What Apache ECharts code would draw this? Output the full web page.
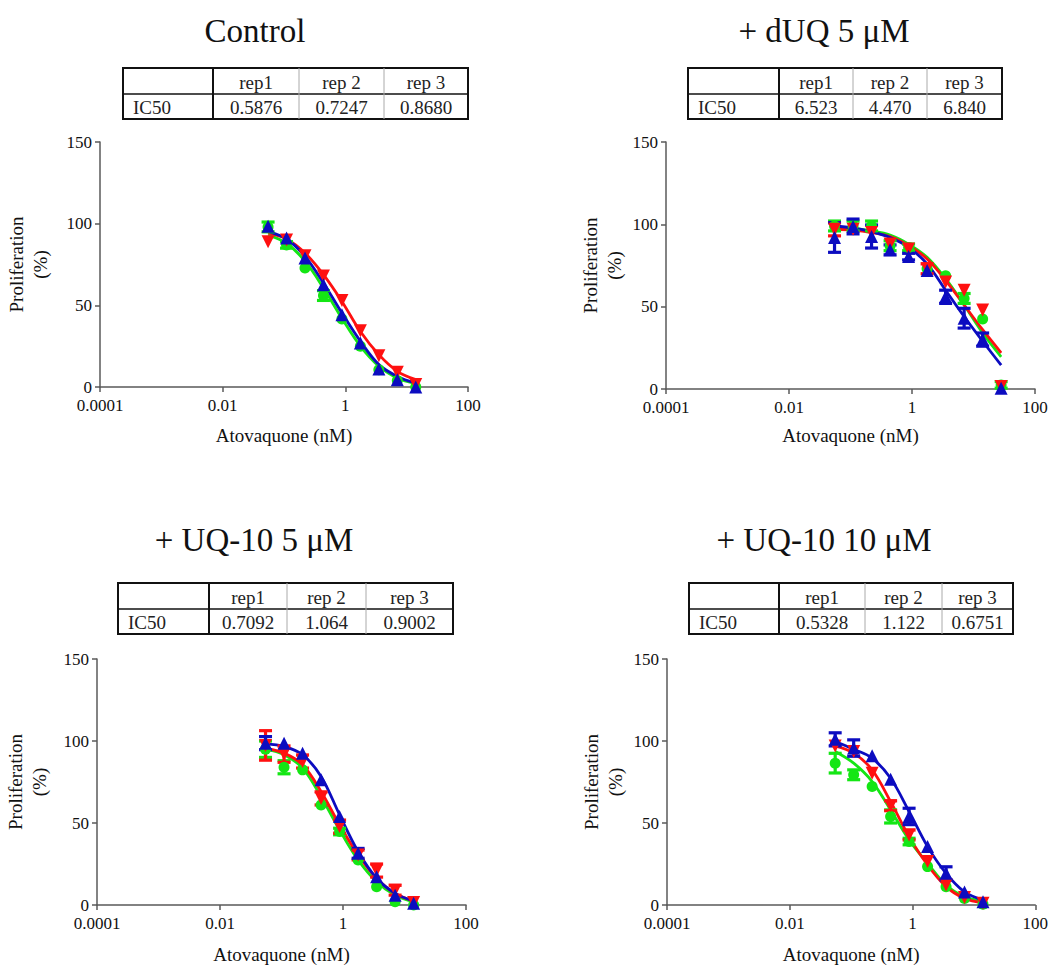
<!DOCTYPE html>
<html>
<head>
<meta charset="utf-8">
<script src="https://cdn.jsdelivr.net/npm/echarts@6/dist/echarts.min.js"></script>
<style>
html,body{margin:0;padding:0;background:#fff;}
#chart{width:1051px;height:967px;}
</style>
</head>
<body>
<div id="chart"></div>
<script>
// ---------------- DATA ----------------
const conc = [0.055, 0.11, 0.22, 0.44, 0.88, 1.76, 3.52, 7.04, 14.08, 28.16];
const panelTitles = ['Control', '+ dUQ 5 \u03bcM', '+ UQ-10 5 \u03bcM', '+ UQ-10 10 \u03bcM'];
const repLabels = ['rep1', 'rep 2', 'rep 3'];
const rowLabel = 'IC50';
const xTicks = [0.0001, 0.01, 1, 100];
const yTicks = [0, 50, 100, 150];
const xAxisName = 'Atovaquone (nM)';
const yAxisName = 'Proliferation\n(%)';

const ctrlIC50 = ['0.5876', '0.7247', '0.8680'];
const duqIC50 = ['6.523', '4.470', '6.840'];
const uq5IC50 = ['0.7092', '1.064', '0.9002'];
const uq10IC50 = ['0.5328', '1.122', '0.6751'];

// Control (rep1 green, rep2 blue, rep3 red)
const ctrlRep1 = [98, 87, 72.9, 56, 41.6, 25, 10.6, 4, 0];
const ctrlRep1Err = [3, 2, 0, 3, 0, 0, 0, 0, 0];
const ctrlRep2 = [98.4, 91.2, 79, 62.6, 44.3, 26.9, 11, 4.5, 0];
const ctrlRep2Err = [0, 0, 0, 0, 0, 0, 0, 0, 0];
const ctrlRep3 = [89, 90, 80.4, 68, 53, 34.5, 19.2, 9, 1.5];
const ctrlRep3Err = [0, 0, 0, 0, 0, 0, 0, 0, 0];
const ctrlFit1 = [93, 88, 77, 60.6, 42, 25, 12.7, 5.5, 2];
const ctrlFit2 = [95.3, 90.6, 80, 63.7, 45.3, 28, 13.7, 6.5, 2.4];
const ctrlFit3 = [94.3, 90.6, 82, 68.8, 52.4, 34, 19.8, 9.6, 4.5];

// + dUQ 5 uM
const duqRep1 = [99, 99, 99, 87, 86, 73, 68.7, 55, 42.5, 2.5];
const duqRep1Err = [3, 3, 3, 3, 2, 0, 0, 3, 0, 2];
const duqRep2 = [92, 98.7, 92.6, 84.5, 80.4, 72, 56, 43, 30, 0.5];
const duqRep2Err = [9, 4.5, 7, 3, 2, 0, 4, 6, 4, 0];
const duqRep3 = [97, 97, 95, 88, 85, 73, 65, 60, 48, 1.5];
const duqRep3Err = [4, 0, 0, 0, 0, 3, 0, 0, 0, 0];
const duqFit1 = [98, 97.5, 96, 93.5, 88, 80, 67, 51, 34, 19.5];
const duqFit2 = [99, 97.8, 95.5, 92, 86, 76, 60, 44, 29, 14.5];
const duqFit3 = [97, 96.5, 95, 92.5, 87, 79, 66, 51, 36, 22];

// + UQ-10 5 uM
const uq5Rep1 = [95, 84, 82.4, 61, 44.8, 27.5, 11.2, 2, 0];
const uq5Rep1Err = [5, 4, 0, 0, 2, 0, 0, 0, 0];
const uq5Rep2 = [98.7, 98.7, 92.6, 76.3, 54, 31.5, 17.3, 6, 1];
const uq5Rep2Err = [4, 0, 0, 0, 0, 3, 0, 0, 0];
const uq5Rep3 = [97.3, 92, 87.5, 65, 47.8, 30.5, 21, 9, 1.5];
const uq5Rep3Err = [9, 5, 4, 4, 4, 3, 4, 3, 0];
const uq5Fit1 = [95, 91.6, 83.5, 66, 45.8, 27.5, 14.2, 6, 2];
const uq5Fit2 = [98.3, 96.7, 91.6, 78.4, 55, 32.6, 16.3, 7.1, 2.4];
const uq5Fit3 = [95.7, 92.6, 85.5, 69.2, 48.8, 30.5, 16.3, 7, 2.5];

// + UQ-10 10 uM
const uq10Rep1 = [86.5, 79.4, 72.3, 54, 38.7, 23.4, 11.2, 4, 0.5];
const uq10Rep1Err = [6, 3, 0, 4, 2, 0, 0, 0, 0];
const uq10Rep2 = [101, 95.7, 91, 76.7, 54, 35.6, 19.3, 8, 2];
const uq10Rep2Err = [4, 5, 0, 0, 5, 0, 4, 0, 0];
const uq10Rep3 = [97, 93.6, 80.4, 60.5, 42.7, 26.5, 12.2, 4.5, 1];
const uq10Rep3Err = [0, 0, 0, 3, 3, 0, 0, 0, 0];
const uq10Fit1 = [93.6, 86.5, 75.3, 58, 39.7, 25.4, 12.2, 5, 2.4];
const uq10Fit2 = [99.7, 95, 89.5, 77.3, 57, 35.6, 19.3, 8, 3];
const uq10Fit3 = [97, 92.6, 82.4, 63, 41.7, 24.4, 11.2, 4, 1.4];

// ---------------- LAYOUT / STYLE ----------------
const FONT = "'Liberation Serif', 'Times New Roman', serif";
const COLORS = ['#14e614', '#0c0cc0', '#ff1010']; // rep1 green, rep2 blue, rep3 red
const SYMBOLS = [
  {symbol: 'circle', size: 11, rotate: 0},
  {symbol: 'triangle', size: 13, rotate: 0},
  {symbol: 'triangle', size: 13, rotate: 180}
];

const panels = [
  {title: panelTitles[0], ic50: ctrlIC50,
   reps: [ctrlRep1, ctrlRep2, ctrlRep3], errs: [ctrlRep1Err, ctrlRep2Err, ctrlRep3Err], fits: [ctrlFit1, ctrlFit2, ctrlFit3],
   grid: {left: 100, top: 142, width: 368, height: 245}, yGap: 48, xGap: 39,
   titlePos: [255, 31], table: {xs: [123, 213, 299, 384, 468], ys: [68, 94, 119]}},
  {title: panelTitles[1], ic50: duqIC50,
   reps: [duqRep1, duqRep2, duqRep3], errs: [duqRep1Err, duqRep2Err, duqRep3Err], fits: [duqFit1, duqFit2, duqFit3],
   grid: {left: 666, top: 142, width: 369, height: 247}, yGap: 40, xGap: 37,
   titlePos: [824, 31], table: {xs: [688, 779, 853, 927, 1002], ys: [68, 94, 119]}},
  {title: panelTitles[2], ic50: uq5IC50,
   reps: [uq5Rep1, uq5Rep2, uq5Rep3], errs: [uq5Rep1Err, uq5Rep2Err, uq5Rep3Err], fits: [uq5Fit1, uq5Fit2, uq5Fit3],
   grid: {left: 97, top: 659, width: 369, height: 246}, yGap: 46, xGap: 40,
   titlePos: [254, 540], table: {xs: [118, 209, 287, 366, 453], ys: [583, 609, 634]}},
  {title: panelTitles[3], ic50: uq10IC50,
   reps: [uq10Rep1, uq10Rep2, uq10Rep3], errs: [uq10Rep1Err, uq10Rep2Err, uq10Rep3Err], fits: [uq10Fit1, uq10Fit2, uq10Fit3],
   grid: {left: 667, top: 659, width: 369, height: 246}, yGap: 40, xGap: 40,
   titlePos: [824, 540], table: {xs: [689, 779, 865, 942, 1013], ys: [583, 609, 634]}}
];

const grids = [], xAxes = [], yAxes = [], series = [], graphics = [];
const AXIS_COLOR = '#5a5a5a';

panels.forEach((p, pi) => {
  grids.push(Object.assign({containLabel: false}, p.grid));
  xAxes.push({
    gridIndex: pi, type: 'log', logBase: 100, min: xTicks[0], max: xTicks[xTicks.length - 1],
    name: xAxisName, nameLocation: 'middle', nameGap: p.xGap,
    nameTextStyle: {fontFamily: FONT, fontSize: 19, color: '#111'},
    axisLine: {lineStyle: {color: AXIS_COLOR, width: 1.5}},
    axisTick: {show: true, length: 5, lineStyle: {color: AXIS_COLOR, width: 1.5}},
    minorTick: {show: false},
    splitLine: {show: false},
    axisLabel: {fontFamily: FONT, fontSize: 17, color: '#111', margin: 10,
      formatter: v => String(Number(Number(v).toPrecision(4)))}
  });
  yAxes.push({
    gridIndex: pi, type: 'value', min: yTicks[0], max: yTicks[yTicks.length - 1], interval: yTicks[1] - yTicks[0],
    name: yAxisName, nameLocation: 'middle', nameGap: p.yGap, nameRotate: 90,
    nameTextStyle: {fontFamily: FONT, fontSize: 19, color: '#111', lineHeight: 24},
    axisLine: {show: true, lineStyle: {color: AXIS_COLOR, width: 1.5}},
    axisTick: {show: true, length: 5, lineStyle: {color: AXIS_COLOR, width: 1.5}},
    splitLine: {show: false},
    axisLabel: {fontFamily: FONT, fontSize: 17, color: '#111', margin: 8}
  });

  // fitted curves
  [0, 2, 1].forEach(ri => {
    series.push({
      type: 'line', xAxisIndex: pi, yAxisIndex: pi, smooth: 0.35, showSymbol: false, silent: true,
      data: p.fits[ri].map((v, i) => [conc[i], v]),
      lineStyle: {color: COLORS[ri], width: 2.8}, z: 2
    });
  });
  // error bars
  [0, 2, 1].forEach(ri => {
    const color = COLORS[ri];
    const eData = [];
    p.reps[ri].forEach((v, i) => { if (p.errs[ri][i] > 0) eData.push([conc[i], v, p.errs[ri][i]]); });
    series.push({
      type: 'custom', xAxisIndex: pi, yAxisIndex: pi, silent: true, z: 3,
      data: eData,
      renderItem: (params, api) => {
        const x = api.value(0), y = api.value(1), e = api.value(2);
        const t = api.coord([x, y + e]);
        const b = api.coord([x, y - e]);
        const hw = 6.5;
        const st = {stroke: color, lineWidth: 3.2};
        return {type: 'group', children: [
          {type: 'line', shape: {x1: t[0], y1: t[1], x2: b[0], y2: b[1]}, style: st},
          {type: 'line', shape: {x1: t[0] - hw, y1: t[1], x2: t[0] + hw, y2: t[1]}, style: st},
          {type: 'line', shape: {x1: b[0] - hw, y1: b[1], x2: b[0] + hw, y2: b[1]}, style: st}
        ]};
      }
    });
  });
  // points
  [0, 2, 1].forEach(ri => {
    series.push({
      type: 'scatter', xAxisIndex: pi, yAxisIndex: pi, clip: false, silent: true, z: 4,
      symbol: SYMBOLS[ri].symbol, symbolSize: SYMBOLS[ri].size, symbolRotate: SYMBOLS[ri].rotate,
      itemStyle: {color: COLORS[ri], opacity: 1},
      data: p.reps[ri].map((v, i) => [conc[i], v])
    });
  });

  // title
  graphics.push({type: 'text', x: p.titlePos[0], y: p.titlePos[1],
    style: {text: p.title, fontFamily: FONT, fontSize: 33, fill: '#111', align: 'center', verticalAlign: 'middle'}});

  // table
  const xs = p.table.xs, ys = p.table.ys;
  const L = xs[0], R = xs[xs.length - 1], T = ys[0], M = ys[1], B = ys[2];
  graphics.push({type: 'rect', shape: {x: L, y: T, width: R - L, height: B - T},
    style: {fill: '#fff', stroke: '#111', lineWidth: 2}, z: 1});
  graphics.push({type: 'line', shape: {x1: L, y1: M, x2: R, y2: M}, style: {stroke: '#111', lineWidth: 1.5}, z: 2});
  graphics.push({type: 'line', shape: {x1: xs[1], y1: T, x2: xs[1], y2: B}, style: {stroke: '#111', lineWidth: 2}, z: 2});
  for (let k = 2; k < xs.length - 1; k++) {
    graphics.push({type: 'line', shape: {x1: xs[k], y1: T, x2: xs[k], y2: B}, style: {stroke: '#aaa', lineWidth: 1}, z: 2});
  }
  repLabels.forEach((lab, k) => {
    const cx = (xs[k + 1] + xs[k + 2]) / 2;
    graphics.push({type: 'text', x: cx, y: (T + M) / 2 + 1, z: 3,
      style: {text: lab, fontFamily: FONT, fontSize: 19, fill: '#222', align: 'center', verticalAlign: 'middle'}});
    graphics.push({type: 'text', x: cx, y: (M + B) / 2 + 1, z: 3,
      style: {text: p.ic50[k], fontFamily: FONT, fontSize: 19, fill: '#222', align: 'center', verticalAlign: 'middle'}});
  });
  graphics.push({type: 'text', x: L + 10, y: (M + B) / 2 + 1, z: 3,
    style: {text: rowLabel, fontFamily: FONT, fontSize: 19, fill: '#222', align: 'left', verticalAlign: 'middle'}});
});

const chart = echarts.init(document.getElementById('chart'), null, {renderer: 'svg', width: 1051, height: 967});
chart.setOption({
  animation: false,
  backgroundColor: '#fff',
  grid: grids,
  xAxis: xAxes,
  yAxis: yAxes,
  series: series,
  graphic: {elements: graphics}
});
</script>
</body>
</html>
